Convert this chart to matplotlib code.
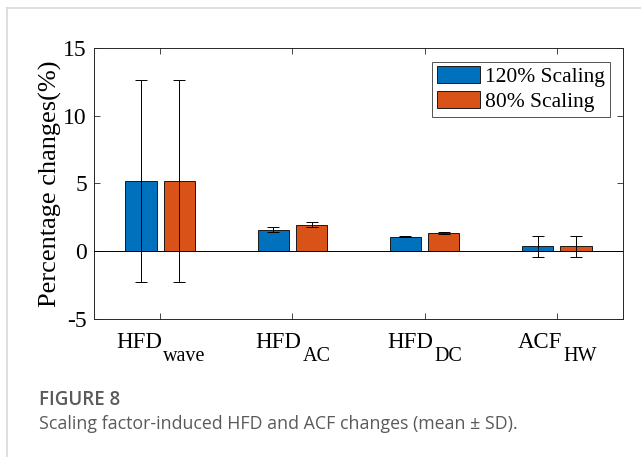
import numpy as np
import matplotlib
matplotlib.use("Agg")
import matplotlib.pyplot as plt

plt.rcParams['font.family'] = ['Liberation Serif', 'DejaVu Serif']

# mean and SD of the percentage changes for each measure
measure_names = ["HFD", "HFD", "HFD", "ACF"]
measure_subs = ["wave", "AC", "DC", "HW"]
scale120_mean = [5.2, 1.6, 1.08, 0.35]
scale120_sd = [7.45, 0.17, 0.05, 0.81]
scale80_mean = [5.2, 1.97, 1.33, 0.35]
scale80_sd = [7.45, 0.2, 0.06, 0.81]
series_names = ["120% Scaling", "80% Scaling"]
yticks = [-5, 0, 5, 10, 15]

blue = "#0072BD"
orange = "#D95319"

fig = plt.figure(figsize=(6.41, 4.57), dpi=100)

# light frame round the figure panel
fig.add_artist(plt.Line2D([0.011, 0.011], [0.0, 0.983], color="#d9d9d9", lw=1.2))
fig.add_artist(plt.Line2D([0.011, 1.0], [0.983, 0.983], color="#d9d9d9", lw=1.2))

ax = fig.add_axes([0.1466, 0.302, 0.8254, 0.593])

x = np.arange(1, len(measure_names) + 1)
off = 0.145
w = 0.237
err_kw = dict(ecolor="black", elinewidth=0.7, capsize=4, capthick=0.7)
ax.bar(x - off, scale120_mean, w, yerr=scale120_sd, color=blue, edgecolor="#1a1a1a",
       linewidth=0.7, error_kw=err_kw, label=series_names[0], zorder=2)
ax.bar(x + off, scale80_mean, w, yerr=scale80_sd, color=orange, edgecolor="#1a1a1a",
       linewidth=0.7, error_kw=err_kw, label=series_names[1], zorder=2)
ax.axhline(0, color="black", lw=0.7, zorder=3)

ax.set_xlim(0.5, 4.5)
ax.set_ylim(-5, 15)
ax.set_yticks(yticks)
ax.set_yticklabels([str(t) for t in yticks], fontsize=17)
ax.set_xticks(x)
ax.set_xticklabels([])
ax.tick_params(direction="in", top=True, right=True, length=4.5, width=0.6, color="#262626")
ax.tick_params(axis="y", pad=5)
for s in ax.spines.values():
    s.set_color("#262626")
    s.set_linewidth(0.7)
ax.set_ylabel("Percentage changes(%)", fontsize=19, labelpad=1)

leg = ax.legend(loc="upper right", bbox_to_anchor=(0.975, 0.95), fontsize=15.5, frameon=True,
                fancybox=False, handlelength=2.0, handleheight=0.85, handletextpad=0.25,
                labelspacing=0.18, borderpad=0.22, borderaxespad=0)
leg.get_frame().set_edgecolor("#262626")
leg.get_frame().set_linewidth(0.7)

# tick labels with big, well-dropped subscripts (tex style)
fig.canvas.draw()
r = fig.canvas.get_renderer()
pt = 72.0 / fig.dpi
for xi, name, sub in zip(x, measure_names, measure_subs):
    t1 = ax.annotate(name, (xi, 0), xycoords=("data", "axes fraction"), textcoords="offset points",
                     xytext=(0, -29 * pt), fontsize=16.5, ha="left", va="baseline")
    t2 = ax.annotate(sub, (xi, 0), xycoords=("data", "axes fraction"), textcoords="offset points",
                     xytext=(0, -42 * pt), fontsize=14.5, ha="left", va="baseline")
    w1 = t1.get_window_extent(r).width
    w2 = t2.get_window_extent(r).width
    start = -(w1 + w2) / 2
    t1.set_position((start * pt, -29 * pt))
    t2.set_position(((start + w1 + 1) * pt, -42 * pt))

fig.text(0.061, 0.125, "FIGURE 8", fontsize=13.5, color="#5a5a5a", family="Open Sans",
         weight="semibold", va="center")
fig.text(0.061, 0.072, "Scaling factor-induced HFD and ACF changes (mean \u00b1 SD).", fontsize=12.8,
         color="#5a5a5a", family="Open Sans", va="center")

fig.savefig("out.png", dpi=100)
